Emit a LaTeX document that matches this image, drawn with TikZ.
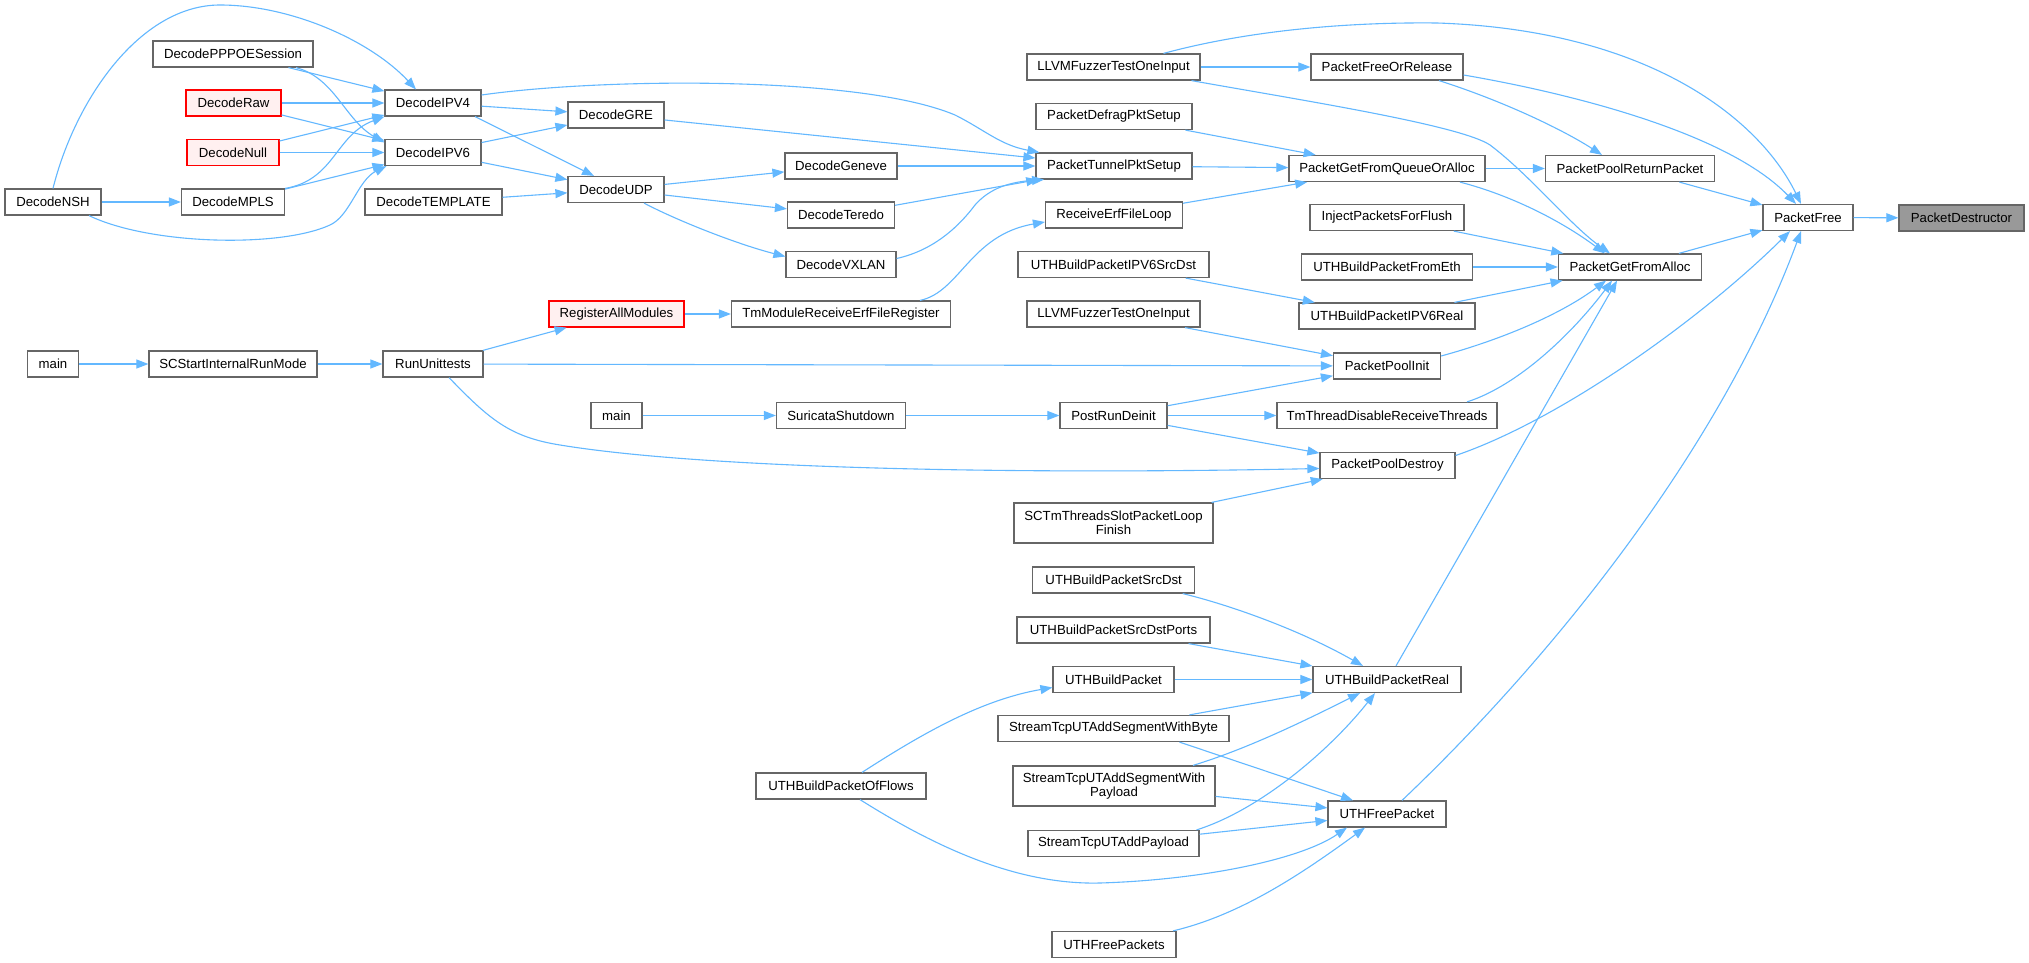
\documentclass[tikz,border=0pt]{standalone}
\usepackage{fontspec}
\setmainfont{Liberation Sans}
\usetikzlibrary{arrows.meta}
\definecolor{edgec}{HTML}{63B8FF}
\definecolor{boxline}{HTML}{666666}
\definecolor{redline}{HTML}{FF0000}
\definecolor{redfill}{HTML}{FFF0F0}
\definecolor{grayfill}{HTML}{999999}
\begin{document}
\begin{tikzpicture}[x=1pt,y=-1pt,
  fn/.style={draw=boxline, fill=white, line width=1.2pt, rectangle, inner sep=0pt,
    minimum height=26pt, align=center, font=\fontsize{13.2}{14.5}\selectfont},
  fnred/.style={fn, draw=redline, fill=redfill},
  fncur/.style={fn, fill=grayfill},
  tall/.style={minimum height=40pt},
  ed/.style={draw=edgec, line width=1.1pt, -{Triangle[length=12pt,width=9pt]}}
]
\fill[white] (0,0) rectangle (2029,963);
\useasboundingbox (0,0) rectangle (2029,963);

% column 0
\node[fn, minimum width=96pt] (NSH) at (53,202) {DecodeNSH};
\node[fn, minimum width=51pt] (main1) at (53,364) {main};
% column 1
\node[fn, minimum width=160pt] (PPPOE) at (233,54) {DecodePPPOESession};
\node[fnred, minimum width=95pt] (Raw) at (233.5,103) {DecodeRaw};
\node[fnred, minimum width=92pt] (Null) at (233,152.5) {DecodeNull};
\node[fn, minimum width=103pt] (MPLS) at (233,202) {DecodeMPLS};
\node[fn, minimum width=168pt] (SCS) at (233,364) {SCStartInternalRunMode};
% column 2
\node[fn, minimum width=96pt] (IPV4) at (433,103) {DecodeIPV4};
\node[fn, minimum width=96pt] (IPV6) at (433,152.5) {DecodeIPV6};
\node[fn, minimum width=137pt] (TEMPL) at (433.5,202) {DecodeTEMPLATE};
\node[fn, minimum width=100pt] (RU) at (433,364) {RunUnittests};
% column 3
\node[fn, minimum width=96pt] (GRE) at (616,115) {DecodeGRE};
\node[fn, minimum width=96pt] (UDP) at (616,189.5) {DecodeUDP};
\node[fnred, minimum width=135pt] (RAM) at (616.5,314) {RegisterAllModules};
\node[fn, minimum width=51pt] (main2) at (616.5,415.5) {main};
% column 4
\node[fn, minimum width=112pt] (Geneve) at (841,166) {DecodeGeneve};
\node[fn, minimum width=107pt] (Teredo) at (841,215) {DecodeTeredo};
\node[fn, minimum width=110pt] (VXLAN) at (841,264.5) {DecodeVXLAN};
\node[fn, minimum width=219pt] (TMRE) at (841,314) {TmModuleReceiveErfFileRegister};
\node[fn, minimum width=129pt] (SS) at (841,415.5) {SuricataShutdown};
\node[fn, minimum width=170pt] (UBPOF) at (841,786) {UTHBuildPacketOfFlows};
% column 5
\node[fn, minimum width=173pt] (LLVM1) at (1113.5,67) {LLVMFuzzerTestOneInput};
\node[fn, minimum width=156pt] (PDPS) at (1114,116.5) {PacketDefragPktSetup};
\node[fn, minimum width=156pt] (PTPS) at (1114,166) {PacketTunnelPktSetup};
\node[fn, minimum width=137pt] (REFL) at (1114,215) {ReceiveErfFileLoop};
\node[fn, minimum width=191pt] (UBP6SD) at (1113.5,264.5) {UTHBuildPacketIPV6SrcDst};
\node[fn, minimum width=173pt] (LLVM2) at (1113.5,314) {LLVMFuzzerTestOneInput};
\node[fn, minimum width=107pt] (PRD) at (1113.5,415.5) {PostRunDeinit};
\node[fn, tall, minimum width=199pt] (SCTM) at (1113.5,523) {SCTmThreadsSlotPacketLoop\\Finish};
\node[fn, minimum width=162pt] (UBPSD) at (1113.7,580) {UTHBuildPacketSrcDst};
\node[fn, minimum width=193pt] (UBPSDP) at (1113.5,630) {UTHBuildPacketSrcDstPorts};
\node[fn, minimum width=121pt] (UBP) at (1113.5,679.5) {UTHBuildPacket};
\node[fn, minimum width=231pt] (WB) at (1113.5,728.5) {StreamTcpUTAddSegmentWithByte};
\node[fn, tall, minimum width=202pt] (WP) at (1114,786) {StreamTcpUTAddSegmentWith\\Payload};
\node[fn, minimum width=171pt] (SUAP) at (1113.5,843.5) {StreamTcpUTAddPayload};
\node[fn, minimum width=124pt] (UFPS) at (1114,944.5) {UTHFreePackets};
% column 6
\node[fn, minimum width=152pt] (PFOR) at (1387,67) {PacketFreeOrRelease};
\node[fn, minimum width=196pt] (PGFQOA) at (1387,168.5) {PacketGetFromQueueOrAlloc};
\node[fn, minimum width=154pt] (IPFF) at (1387,217.5) {InjectPacketsForFlush};
\node[fn, minimum width=171pt] (UBPFE) at (1387,267) {UTHBuildPacketFromEth};
\node[fn, minimum width=176pt] (UBP6R) at (1387,316) {UTHBuildPacketIPV6Real};
\node[fn, minimum width=107pt] (PPI) at (1387,366) {PacketPoolInit};
\node[fn, minimum width=220pt] (TTDRT) at (1387,415.5) {TmThreadDisableReceiveThreads};
\node[fn, minimum width=135pt] (PPD) at (1387.5,465.5) {PacketPoolDestroy};
\node[fn, minimum width=148pt] (UBPR) at (1387,679.5) {UTHBuildPacketReal};
\node[fn, minimum width=118pt] (UFP) at (1387,814) {UTHFreePacket};
% column 7-9
\node[fn, minimum width=169pt] (PPRP) at (1630,168.5) {PacketPoolReturnPacket};
\node[fn, minimum width=143pt] (PGFA) at (1630,267) {PacketGetFromAlloc};
\node[fn, minimum width=90pt] (PF) at (1808,217.5) {PacketFree};
\node[fncur, minimum width=125pt] (PD) at (1961.5,218) {PacketDestructor};

% edges
\draw[ed] (NSH.north) .. controls (75,100) and (140,5) .. (220,5) .. controls (290,5) and (370,40) .. ([xshift=-17pt]IPV4.north);
\draw[ed] (NSH) -- (MPLS);
\draw[ed] ([xshift=36pt]NSH.south) .. controls (150,245) and (280,248) .. (330,225) .. controls (350,216) and (358,180) .. ([xshift=2pt]IPV6.south west);
\draw[ed] (PPPOE) -- (IPV4);
\draw[ed] ([xshift=63pt]PPPOE.south) .. controls (335,78) and (345,120) .. ([yshift=10pt]IPV6.west);
\draw[ed] (Raw) -- (IPV4);
\draw[ed] (Raw) -- (IPV6);
\draw[ed] (Null) -- (IPV4);
\draw[ed] (Null) -- (IPV6);
\draw[ed] (MPLS.north east) .. controls (335,180) and (335,135) .. (IPV4.south west);
\draw[ed] (MPLS) -- (IPV6);
\draw[ed] (IPV4) -- (GRE);
\draw[ed] ([xshift=42pt]IPV4.south) -- ([xshift=-22pt]UDP.north);
\draw[ed] ([yshift=8pt]IPV4.east) .. controls (600,78) and (860,75) .. (955,115) .. controls (985,130) and (1000,145) .. ([xshift=4pt]PTPS.north west);
\draw[ed] (IPV6) -- (GRE);
\draw[ed] (IPV6) -- (UDP);
\draw[ed] (TEMPL) -- (UDP);
\draw[ed] (GRE) -- (PTPS);
\draw[ed] (UDP) -- (Geneve);
\draw[ed] (UDP) -- (Teredo);
\draw[ed] ([xshift=28pt]UDP.south) .. controls (680,222) and (740,245) .. ([yshift=8pt]VXLAN.west);
\draw[ed] (Geneve) -- (PTPS);
\draw[ed] (Teredo) -- (PTPS);
\draw[ed] ([yshift=6pt]VXLAN.east) .. controls (935,250) and (960,225) .. (975,205) .. controls (990,188) and (1010,182) .. ([xshift=-70pt]PTPS.south);
\draw[ed] (main1) -- (SCS);
\draw[ed] (SCS) -- (RU);
\draw[ed] (RU) -- (RAM);
\draw[ed] (RU) -- (PPI);
\draw[ed] ([xshift=16pt]RU.south) .. controls (490,420) and (510,437) .. (560,445) .. controls (700,468) and (1000,475) .. ([yshift=-3pt]PPD.west);
\draw[ed] (RAM) -- (TMRE);
\draw[ed] ([xshift=79pt]TMRE.north) .. controls (960,292) and (970,235) .. ([yshift=-7pt]REFL.west);
\draw[ed] (main2) -- (SS);
\draw[ed] (SS) -- (PRD);
\draw[ed] ([xshift=21pt]UBPOF.north) .. controls (920,735) and (980,700) .. ([yshift=-8pt]UBP.west);
\draw[ed] ([xshift=19pt]UBPOF.south) .. controls (940,850) and (1020,885) .. (1100,883) .. controls (1200,880) and (1300,860) .. ([xshift=-40pt]UFP.south);
\draw[ed] (LLVM1) -- (PFOR);
\draw[ed] ([xshift=50pt]LLVM1.north) .. controls (1250,30) and (1350,22) .. (1437,23) .. controls (1650,30) and (1760,120) .. ([xshift=-7pt]PF.north);
\draw[ed] ([xshift=78pt]LLVM1.south) .. controls (1300,100) and (1460,125) .. (1490,145) .. controls (1530,175) and (1570,225) .. ([xshift=-20pt]PGFA.north);
\draw[ed] (PDPS) -- (PGFQOA);
\draw[ed] (PTPS) -- (PGFQOA);
\draw[ed] (REFL) -- (PGFQOA);
\draw[ed] (UBP6SD) -- (UBP6R);
\draw[ed] (LLVM2) -- (PPI);
\draw[ed] (PRD) -- (PPI);
\draw[ed] (PRD) -- (TTDRT);
\draw[ed] (PRD) -- (PPD);
\draw[ed] (SCTM) -- (PPD);
\draw[ed] ([xshift=69pt]UBPSD.south) .. controls (1230,605) and (1300,630) .. ([xshift=-24pt]UBPR.north);
\draw[ed] (UBPSDP) -- (UBPR);
\draw[ed] (UBP) -- (UBPR);
\draw[ed] (WB) -- (UBPR);
\draw[ed] ([xshift=66pt]WB.south) -- ([xshift=-34pt]UFP.north);
\draw[ed] ([xshift=79pt]WP.north) .. controls (1250,748) and (1310,718) .. ([xshift=-27pt]UBPR.south);
\draw[ed] (WP) -- (UFP);
\draw[ed] ([xshift=83pt]SUAP.north) .. controls (1260,810) and (1330,750) .. ([xshift=-12pt]UBPR.south);
\draw[ed] (SUAP) -- (UFP);
\draw[ed] ([xshift=59pt]UFPS.north) .. controls (1240,915) and (1300,875) .. ([xshift=-22pt]UFP.south);
\draw[ed] ([xshift=52pt]PFOR.south) .. controls (1500,100) and (1560,128) .. ([xshift=-28pt]PPRP.north);
\draw[ed] ([yshift=-8pt]PFOR.east) .. controls (1580,95) and (1730,135) .. ([xshift=-12pt]PF.north);
\draw[ed] (PGFQOA) -- (PPRP);
\draw[ed] ([xshift=73pt]PGFQOA.south) .. controls (1510,195) and (1560,220) .. ([xshift=-25pt]PGFA.north);
\draw[ed] (IPFF) -- (PGFA);
\draw[ed] (UBPFE) -- (PGFA);
\draw[ed] (UBP6R) -- (PGFA);
\draw[ed] ([yshift=10pt]PPI.east) .. controls (1500,340) and (1560,315) .. ([xshift=-24pt]PGFA.south);
\draw[ed] ([xshift=80pt]TTDRT.north) .. controls (1520,385) and (1575,330) .. ([xshift=-18pt]PGFA.south);
\draw[ed] ([yshift=10pt]PPD.east) .. controls (1560,420) and (1700,320) .. ([xshift=-18pt]PF.south);
\draw[ed] ([xshift=9pt]UBPR.north) -- ([xshift=-13pt]PGFA.south);
\draw[ed] ([xshift=15pt]UFP.north) .. controls (1550,660) and (1720,450) .. ([xshift=-7pt]PF.south);
\draw[ed] (PPRP) -- (PF);
\draw[ed] (PGFA) -- (PF);
\draw[ed] (PF) -- (PD);
\end{tikzpicture}
\end{document}
